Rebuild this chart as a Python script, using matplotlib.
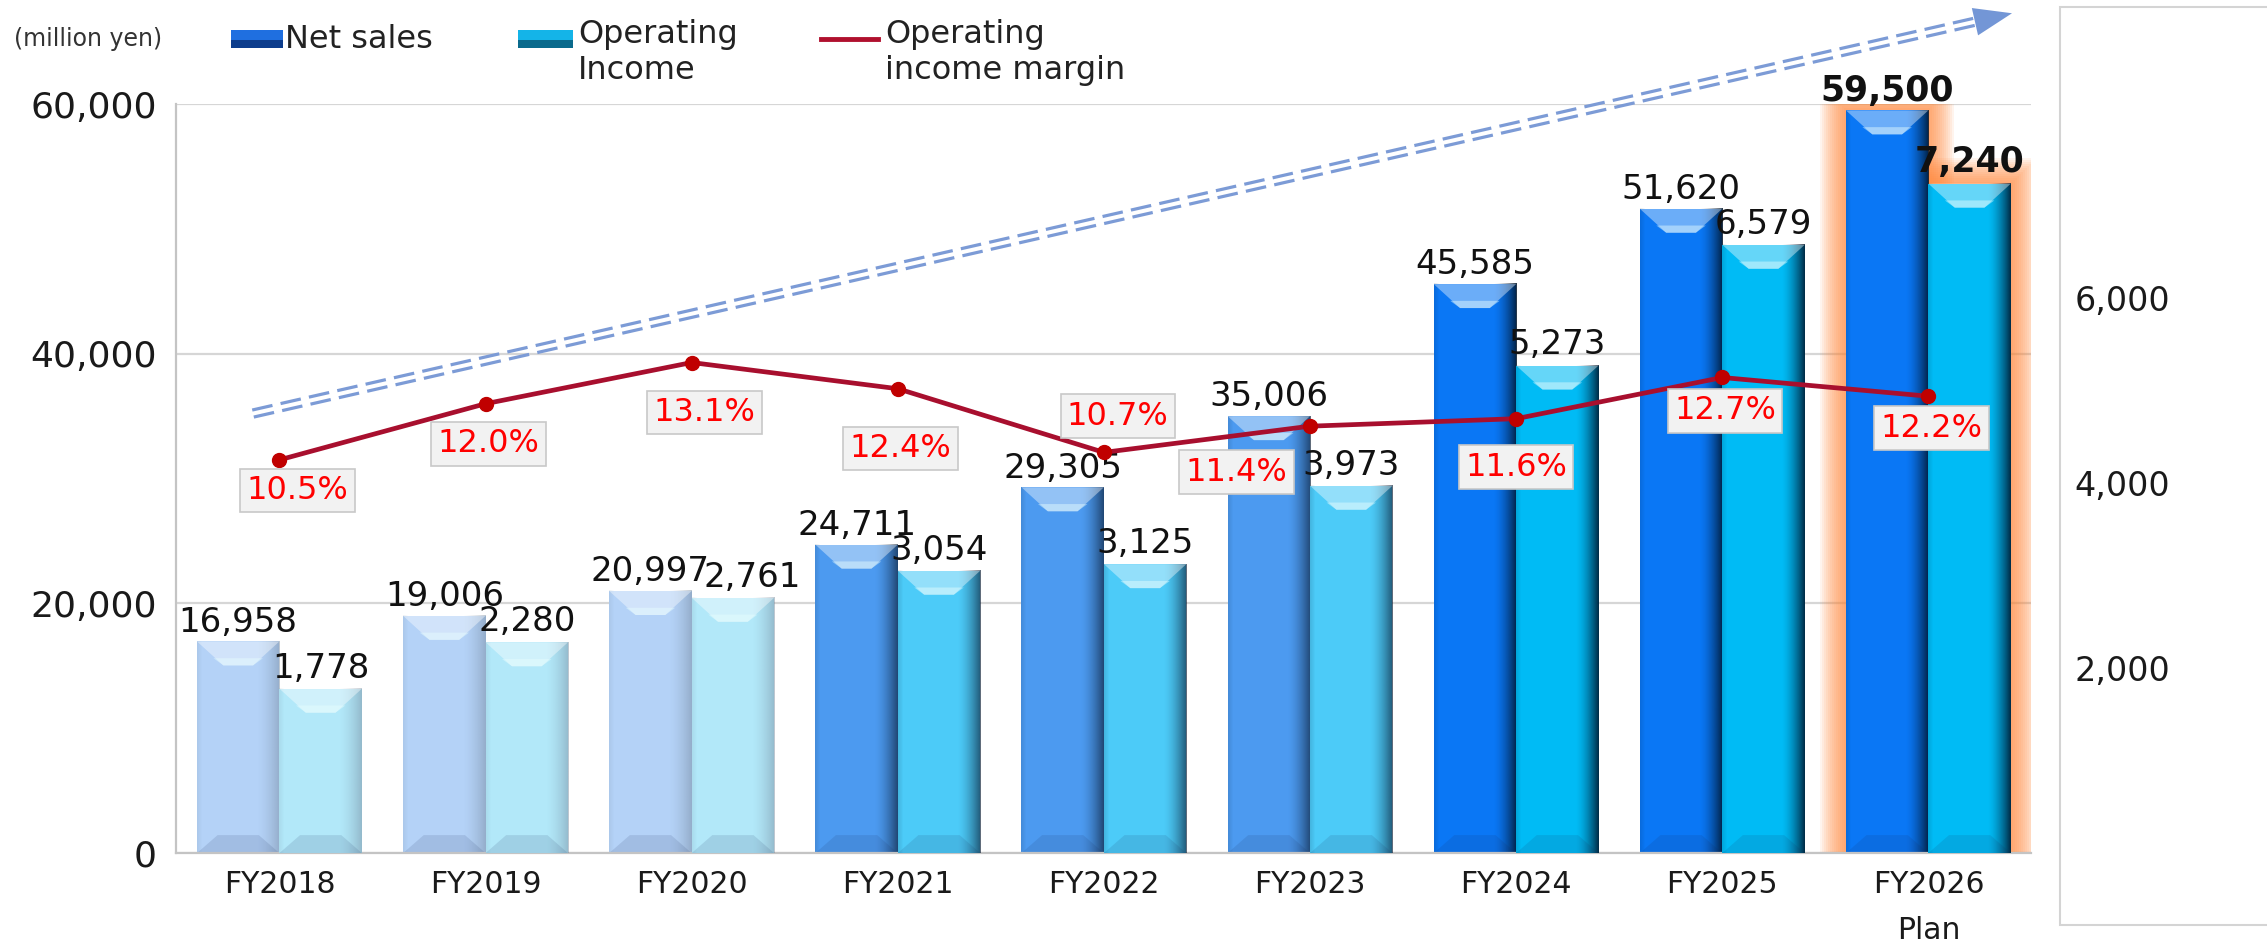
"""Net sales / operating income / operating margin, FY2018 - FY2026 plan."""

import matplotlib
matplotlib.use("Agg")
import matplotlib.pyplot as plt
import numpy as np
from matplotlib.colors import to_rgb
from matplotlib.lines import Line2D
from matplotlib.patches import Polygon, Rectangle

years = ["FY2018", "FY2019", "FY2020", "FY2021", "FY2022",
         "FY2023", "FY2024", "FY2025", "FY2026\nPlan"]
net_sales = [16958, 19006, 20997, 24711, 29305, 35006, 45585, 51620, 59500]
op_income = [1778, 2280, 2761, 3054, 3125, 3973, 5273, 6579, 7240]
op_margin = [10.5, 12.0, 13.1, 12.4, 10.7, 11.4, 11.6, 12.7, 12.2]

W, H, DPI = 2267, 950, 100
AX_RECT = [0.0778, 0.1020, 0.8183, 0.7884]

# colour tier for each year: pale (actual, older), medium, strong
tier = [0, 0, 0, 1, 1, 1, 2, 2, 2]
NET_COL = ["#b4d2f7", "#4c9af0", "#0a77f5"]
OP_COL = ["#b2e8f9", "#4ccbf8", "#00bbf5"]
EDGE_COL = ["#6f8296", "#0a1c33", "#00142a"]
EDGE_ALPHA = [0.45, 0.65, 0.85]

# label nudges (points)
pct_offsets = [(13, -22), (2, -29), (9, -36), (2, -43), (10, 26),
               (-53, -33), (0, -35), (2, -24), (2, -23)]
op_label_dx = {2: 14}


def px_to_data(a, px, axis="y"):
    lo, hi = a.get_ylim() if axis == "y" else a.get_xlim()
    size = AX_RECT[3] * H if axis == "y" else AX_RECT[2] * W
    return (hi - lo) * px / size


def shade_bar(a, rect, t):
    x0, w, h = rect.get_x(), rect.get_width(), rect.get_height()
    n = 80
    s = np.linspace(0, 1, n)
    img = np.zeros((1, n, 4))
    img[..., :3] = to_rgb(EDGE_COL[t])
    alpha = np.clip((s - 0.72) / 0.28, 0, 1) ** 1.6 * EDGE_ALPHA[t]
    alpha += np.clip((0.06 - s) / 0.06, 0, 1) * 0.12
    img[0, :, 3] = alpha
    a.imshow(img, extent=[x0, x0 + w, 0, h], aspect="auto",
             interpolation="bilinear", zorder=2.1)
    d = px_to_data(a, 24)
    top = Polygon([(x0, h), (x0 + w, h), (x0 + w * 0.68, h - d), (x0 + w * 0.32, h - d)],
                  closed=True, fc="white", alpha=0.4, lw=0, zorder=2.2)
    a.add_patch(top)
    band = Polygon([(x0 + w * 0.2, h - d * 0.7), (x0 + w * 0.8, h - d * 0.7),
                    (x0 + w * 0.68, h - d), (x0 + w * 0.32, h - d)],
                   closed=True, fc="#e8ffff", alpha=0.45, lw=0, zorder=2.25)
    a.add_patch(band)
    db = px_to_data(a, 18)
    bot = Polygon([(x0, 0), (x0 + w, 0), (x0 + w * 0.75, db), (x0 + w * 0.25, db)],
                  closed=True, fc="#1a2a5a", alpha=0.12, lw=0, zorder=2.2)
    a.add_patch(bot)


def add_glow(target, a, rect):
    x0, w, h = rect.get_x(), rect.get_width(), rect.get_height()
    for k in range(1, 14):
        gx = px_to_data(a, 2 * k, "x")
        gy = px_to_data(a, 2 * k)
        target.add_patch(Rectangle((x0 - gx, -gy), w + 2 * gx, h + 2 * gy,
                                   transform=a.transData, fc="#ff8a3d",
                                   alpha=0.09, lw=0, zorder=1))


def main():
    fig = plt.figure(figsize=(W / DPI, H / DPI), dpi=DPI)
    fig.add_artist(Rectangle((1425 / 1568, 1 - 640 / 657), 0.2, 635 / 657,
                             transform=fig.transFigure, fc="white",
                             ec="#d4d4d4", lw=1.5, zorder=-1))

    ax = fig.add_axes(AX_RECT)
    ax2 = ax.twinx()
    ax3 = ax.twinx()
    x = np.arange(len(years))

    ax.set_xlim(-0.5, len(years) - 0.5)
    ax.set_ylim(0, 60000)
    ax2.set_ylim(0, 8100)
    ax3.set_ylim(0, 20)

    ns_bars = ax.bar(x - 0.2, net_sales, width=0.4,
                     color=[NET_COL[t] for t in tier], lw=0, zorder=2)
    op_bars = ax2.bar(x + 0.2, op_income, width=0.4,
                      color=[OP_COL[t] for t in tier], lw=0, zorder=2)
    for r, t in zip(ns_bars, tier):
        shade_bar(ax, r, t)
    for r, t in zip(op_bars, tier):
        shade_bar(ax2, r, t)
    add_glow(ax, ax, ns_bars[-1])
    add_glow(ax, ax2, op_bars[-1])

    ax.set_xlim(-0.5, len(years) - 0.5)
    ax.set_ylim(0, 60000)
    ax2.set_ylim(0, 8100)

    # axes styling
    ax.set_yticks([0, 20000, 40000, 60000])
    ax.set_yticklabels([f"{v:,}" for v in [0, 20000, 40000, 60000]])
    ax.set_xticks(x)
    ax.set_xticklabels(years, linespacing=1.75, va="top")
    ax.tick_params(axis="y", length=0, pad=14, labelsize=26, colors="#1a1a1a")
    ax.tick_params(axis="x", length=0, pad=12, labelsize=21.5, colors="#1a1a1a")
    ax.yaxis.grid(True, color="#d6d6d6", lw=1.6)
    ax.set_axisbelow(True)
    for side in ("top", "right"):
        ax.spines[side].set_visible(False)
    for side in ("left", "bottom"):
        ax.spines[side].set_color("#c4c4c4")
        ax.spines[side].set_linewidth(1.6)

    ax2.set_yticks([2000, 4000, 6000])
    ax2.set_yticklabels([f"{v:,}" for v in [2000, 4000, 6000]])
    ax2.tick_params(axis="y", length=0, pad=31, labelsize=24, colors="#1a1a1a")
    for sp in ax2.spines.values():
        sp.set_visible(False)
    for sp in ax3.spines.values():
        sp.set_visible(False)
    ax3.yaxis.set_visible(False)

    # margin line
    ax3.plot(x, op_margin, color="#a80f2e", lw=3.4, marker="o", ms=10,
             mfc="#c00000", mec="#c00000", zorder=5)
    for i, m in enumerate(op_margin):
        dx, dy = pct_offsets[i]
        ax3.annotate(f"{m:.1f}%", (i, m), xytext=(dx, dy), textcoords="offset points",
                     ha="center", va="center", fontsize=23, color="#ff0000", zorder=6,
                     bbox=dict(boxstyle="square,pad=0.2", fc="#f2f2f2",
                               ec="#c8c8c8", lw=1.2))

    # value labels
    for i, v in enumerate(net_sales):
        last = i == len(net_sales) - 1
        ax3.annotate(f"{v:,}", (i - 0.2, v), xycoords=ax.transData,
                     xytext=(0, 2), textcoords="offset points", ha="center",
                     va="bottom", fontsize=25 if last else 24.5,
                     fontweight="bold" if last else "normal", color="#111111")
    for i, v in enumerate(op_income):
        last = i == len(op_income) - 1
        ax3.annotate(f"{v:,}", (i + 0.2, v), xycoords=ax2.transData,
                     xytext=(op_label_dx.get(i, 0), 3), textcoords="offset points",
                     ha="center", va="bottom", fontsize=25 if last else 24.5,
                     fontweight="bold" if last else "normal", color="#111111")

    # growth arrow (double dashed)
    p0 = np.array([175 * W / 1568, H - 286 * H / 657])
    p1 = np.array([1366 * W / 1568, H - 15 * H / 657])
    u = (p1 - p0) / np.linalg.norm(p1 - p0)
    nrm = np.array([-u[1], u[0]])
    for s in (-3.6, 3.6):
        a0 = p0 + nrm * s
        a1 = p1 + nrm * s
        fig.add_artist(Line2D([a0[0] / W, a1[0] / W], [a0[1] / H, a1[1] / H],
                              transform=fig.transFigure, color="#7c9bd6", lw=2.3,
                              ls=(0, (6.5, 2.6)), zorder=3))
    tip = p1 + u * 38
    b1 = p1 + nrm * 14
    b2 = p1 - nrm * 14
    fig.add_artist(Polygon([tip / [W, H], b1 / [W, H], b2 / [W, H]], closed=True,
                           transform=fig.transFigure, fc="#7396d6", lw=0, zorder=3))

    # legend
    fig.text(10 / 1568, 1 - 27 / 657, "(million yen)", fontsize=17,
             va="center", ha="left", color="#333333")
    fig.add_artist(Rectangle((160 / 1568, 1 - 33 / 657), 36 / 1568, 12 / 657,
                             transform=fig.transFigure, fc="#1f6fe0", lw=0))
    fig.add_artist(Rectangle((160 / 1568, 1 - 33 / 657), 36 / 1568, 5 / 657,
                             transform=fig.transFigure, fc="#0d3d8c", lw=0))
    fig.add_artist(Rectangle((358 / 1568, 1 - 33 / 657), 38 / 1568, 12 / 657,
                             transform=fig.transFigure, fc="#14b4e8", lw=0))
    fig.add_artist(Rectangle((358 / 1568, 1 - 33 / 657), 38 / 1568, 5 / 657,
                             transform=fig.transFigure, fc="#0a6a8c", lw=0))
    fig.add_artist(Line2D([568 / 1568, 607 / 1568], [1 - 27 / 657, 1 - 27 / 657],
                          transform=fig.transFigure, color="#b0102e", lw=3.5))
    fig.text(197 / 1568, 1 - 27 / 657, "Net sales", fontsize=23, va="center",
             ha="left", color="#222222")
    fig.text(400 / 1568, 1 - 13 / 657, "Operating\nIncome", fontsize=23, va="top",
             ha="left", color="#222222", linespacing=1.2)
    fig.text(612 / 1568, 1 - 13 / 657, "Operating\nincome margin", fontsize=23,
             va="top", ha="left", color="#222222", linespacing=1.2)

    fig.savefig("out.png", dpi=DPI)
    plt.close(fig)


if __name__ == "__main__":
    main()
